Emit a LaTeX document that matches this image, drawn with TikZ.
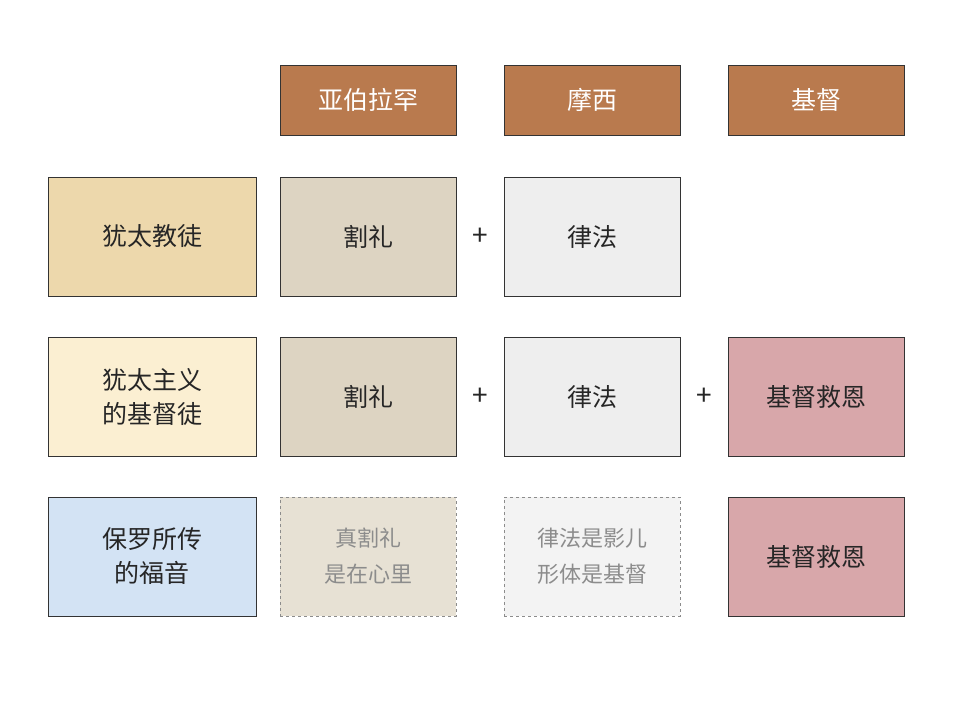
\documentclass[tikz,border=0pt]{standalone}
\usepackage{fontspec}
\setmainfont{Noto Sans CJK SC}
\begin{document}
\begin{tikzpicture}[x=1pt,y=-1pt,
  bx/.style={draw=black!80,line width=0.8pt,minimum width=176pt,minimum height=119pt,inner sep=0pt,font=\fontsize{25}{34}\selectfont,align=center,text=black!85},
  hd/.style={draw=black!80,line width=0.8pt,minimum width=176pt,minimum height=70pt,inner sep=0pt,fill=hdc,text=white,font=\fontsize{25}{30}\selectfont},
  lf/.style={bx,minimum width=208pt},
  dsh/.style={bx,dashed,draw=black!45,text=black!45},
  pl/.style={font=\fontsize{28}{30}\selectfont,text=black!85}]
\definecolor{hdc}{HTML}{B97A4E}
\definecolor{c1}{HTML}{EDD8AC}
\definecolor{c2}{HTML}{FBEFD2}
\definecolor{c3}{HTML}{D3E3F4}
\definecolor{cc}{HTML}{DDD4C2}
\definecolor{cl}{HTML}{EEEEEE}
\definecolor{cg}{HTML}{D8A7AA}
\useasboundingbox (0,0) rectangle (960,720);
\fill[white] (0,0) rectangle (960,720);
\node[hd] (h1) at (368,100) {亚伯拉罕};
\node[hd] (h2) at (592,100) {摩西};
\node[hd] (h3) at (816,100) {基督};
\node[lf,fill=c1] (l1) at (152,236.5) {犹太教徒};
\node[bx,fill=cc] (a1) at (368,236.5) {割礼};
\node[pl] (p11) at (480,236.5) {+};
\node[bx,fill=cl] (b1) at (592,236.5) {律法};
\node[lf,fill=c2] (l2) at (152,396.5) {犹太主义\\的基督徒};
\node[bx,fill=cc] (a2) at (368,396.5) {割礼};
\node[pl] (p21) at (480,396.5) {+};
\node[bx,fill=cl] (b2) at (592,396.5) {律法};
\node[pl] (p22) at (704,396.5) {+};
\node[bx,fill=cg] (g2) at (816,396.5) {基督救恩};
\node[lf,fill=c3] (l3) at (152,556.5) {保罗所传\\的福音};
\node[dsh,fill=cc!70,font=\fontsize{22}{36}\selectfont] (a3) at (368,556.5) {真割礼\\是在心里};
\node[dsh,fill=cl!70,font=\fontsize{22}{36}\selectfont] (b3) at (592,556.5) {律法是影儿\\形体是基督};
\node[bx,fill=cg] (g3) at (816,556.5) {基督救恩};
\end{tikzpicture}
\end{document}
